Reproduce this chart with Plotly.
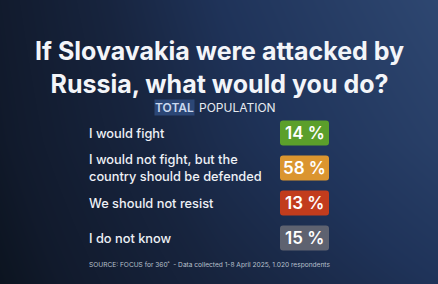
import plotly.graph_objects as go

# ---- data ----
answers = ["I would fight",
           "I would not fight, but the<br>country should be defended",
           "We should not resist",
           "I do not know"]
shares = [14, 58, 13, 15]
badge_colors = ["#5b9f2b", "#db952f", "#c23c1d", "#5e6270"]
title_text = "If Slovavakia were attacked by<br>Russia, what would you do?"
source_text = "SOURCE: FOCUS for 360˚  - Data collected 1-8 April 2025, 1.020 respondents"

W, H = 438, 284
FONT = "Inter"

fig = go.Figure()

# background gradient (decorative)
bg_z = [[0.0, 0.35, 0.6], [0.08, 0.5, 0.85], [0.12, 0.6, 1.0]]
fig.add_trace(go.Heatmap(
    z=bg_z, x=[0, 0.5, 1], y=[0, 0.5, 1], zsmooth="best", showscale=False,
    hoverinfo="skip", xaxis="x2", yaxis="y2",
    colorscale=[[0, "#0c1420"], [0.1, "#111a2c"], [0.35, "#17243e"],
                [0.6, "#1f3359"], [1, "#2e4771"]]))

# invisible trace to register categories
fig.add_trace(go.Scatter(x=shares, y=answers, mode="markers",
                         marker=dict(opacity=0), hoverinfo="skip",
                         xaxis="x3", yaxis="y"))

def rrect(w, h, r):
    x0, x1, y0, y1 = -w/2, w/2, -h/2, h/2
    return (f"M {x0+r},{y0} L {x1-r},{y0} Q {x1},{y0} {x1},{y0+r} "
            f"L {x1},{y1-r} Q {x1},{y1} {x1-r},{y1} L {x0+r},{y1} "
            f"Q {x0},{y1} {x0},{y1-r} L {x0},{y0+r} Q {x0},{y0} {x0+r},{y0} Z")

badge_x = 304.5 / W
label_x = 87 / W
shapes = []
annotations = []
for ans, val, col in zip(answers, shares, badge_colors):
    shapes.append(dict(type="path", xref="x", yref="y",
                       xsizemode="pixel", ysizemode="pixel",
                       xanchor=badge_x, yanchor=ans,
                       path=rrect(49, 25, 3), fillcolor=col, line=dict(width=0),
                       layer="above"))
    annotations.append(dict(x=badge_x, y=ans, xref="x", yref="y",
                            text=f"{val} %", showarrow=False, yanchor="middle",
                            font=dict(family=FONT, size=17, color="#ffffff", weight=600)))
    annotations.append(dict(x=label_x, y=ans, xref="paper", yref="y",
                            text=ans, showarrow=False, xanchor="left", align="left",
                            yanchor="middle",
                            font=dict(family=FONT, size=12.8, color="#eef1f6", weight=500)))

annotations += [
    dict(x=0.5, y=1 - 67/H, xref="paper", yref="paper", text=title_text,
         showarrow=False, align="center", yanchor="middle",
         font=dict(family=FONT, size=25, color="#f3f5f9", weight=700)),
    dict(x=195/W, y=1 - 107.5/H, xref="paper", yref="paper", text="TOTAL",
         showarrow=False, xanchor="right", yanchor="middle", bgcolor="#2c4776", borderpad=0,
         font=dict(family=FONT, size=12, color="#c9d8ee", weight=600)),
    dict(x=197/W, y=1 - 107.5/H, xref="paper", yref="paper", text="POPULATION",
         showarrow=False, xanchor="left", yanchor="middle",
         font=dict(family=FONT, size=12, color="#e6eaf0")),
    dict(x=87/W, y=1 - 265/H, xref="paper", yref="paper", text=source_text,
         showarrow=False, xanchor="left", yanchor="middle",
         font=dict(family=FONT, size=6.6, color="#b9c1cd")),
]

fig.update_layout(
    width=W, height=H, autosize=False,
    margin=dict(l=0, r=0, t=0, b=0),
    paper_bgcolor="#141f35", plot_bgcolor="rgba(0,0,0,0)",
    showlegend=False,
    xaxis=dict(domain=[0, 1], range=[0, 1], visible=False, fixedrange=True),
    yaxis=dict(domain=[1 - 255.5/H, 1 - 115.5/H], type="category",
               categoryorder="array", categoryarray=answers,
               range=[3.5, -0.5], visible=False, fixedrange=True),
    xaxis2=dict(domain=[0, 1], range=[0, 1], visible=False, anchor="y2"),
    yaxis2=dict(domain=[0, 1], range=[0, 1], visible=False, anchor="x2"),
    xaxis3=dict(domain=[0, 1], range=[1000, 2000], visible=False, anchor="y", overlaying="x"),
    shapes=shapes, annotations=annotations,
)

fig.write_html("out.html", config={"displayModeBar": False})
